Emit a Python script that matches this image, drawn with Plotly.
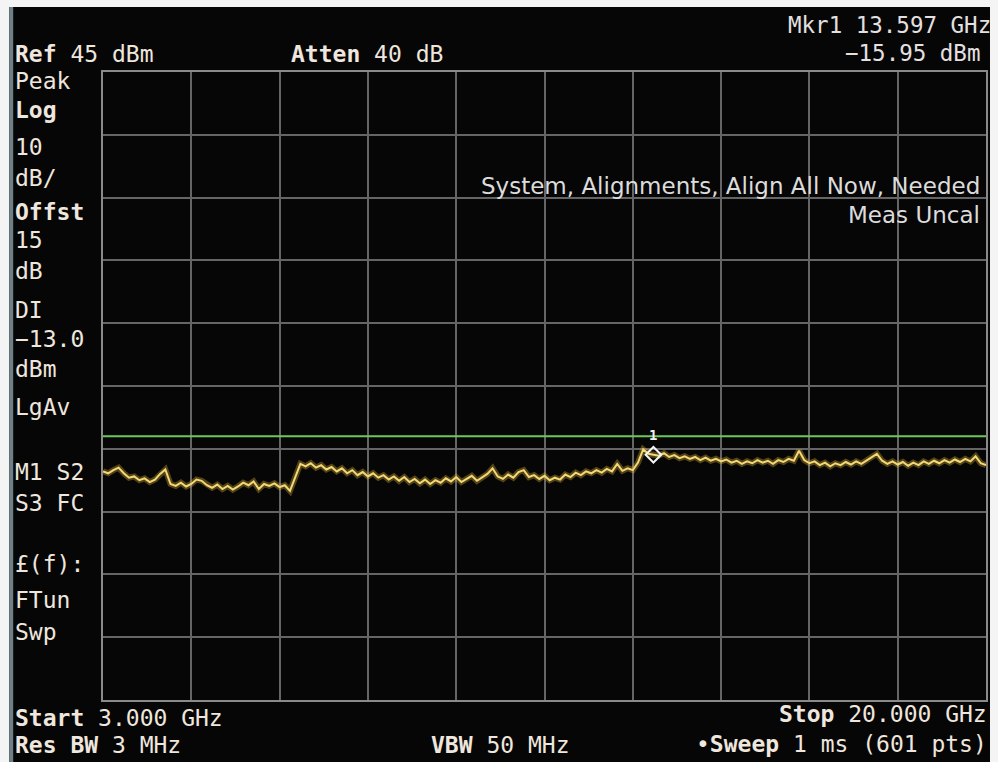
import plotly.graph_objects as go

# Sweep settings shown on the analyzer screen
start_ghz = 3.0
stop_ghz = 20.0
ref_level_dbm = 45
db_per_div = 10
display_line_dbm = -13.0
marker_freq_ghz = 13.597
marker_level_dbm = -15.95

# Trace frequencies (GHz) and measured levels (dBm)
freq_ghz = [round(3.0 + 0.1 * i, 1) for i in range(171)]
level_dbm = [
    -18.6, -18.9, -18.4, -18.0, -18.9, -19.6, -19.4, -20.0, -19.7, -20.3,
    -19.9, -19.0, -18.3, -20.6, -20.9, -20.4, -21.0, -20.6, -19.9, -20.1,
    -20.8, -21.2, -20.7, -21.4, -20.9, -21.5, -21.0, -20.4, -20.8, -20.2,
    -21.4, -20.6, -20.9, -20.5, -21.1, -20.8, -21.7, -19.5, -17.4, -17.8,
    -17.3, -18.0, -17.6, -18.3, -17.9, -18.6, -18.1, -18.9, -18.4, -19.2,
    -18.7, -19.4, -18.9, -19.6, -19.2, -19.9, -19.4, -20.1, -19.5, -20.3,
    -19.8, -20.5, -19.9, -20.6, -20.0, -20.4, -19.7, -20.2, -19.5, -20.3,
    -19.8, -19.3, -20.1, -19.6, -19.0, -18.1, -19.4, -19.8, -19.1, -19.6,
    -18.7, -18.4, -19.5, -19.2, -19.8, -19.3, -20.0, -19.6, -19.9, -19.1,
    -19.5, -18.8, -19.2, -18.6, -18.9, -18.4, -18.8, -18.2, -18.6, -17.4,
    -18.5, -18.1, -18.4, -17.2, -15.1, -15.8, -15.9, -16.1, -15.7, -16.3,
    -16.0, -16.5, -16.2, -16.6, -16.3, -16.8, -16.4, -16.9, -16.6, -17.0,
    -16.7, -17.2, -16.9, -17.4, -17.0, -17.3, -16.8, -17.2, -16.9, -17.4,
    -16.8, -17.1, -16.6, -16.9, -15.3, -16.8, -17.3, -17.0, -17.6, -17.2,
    -17.8, -17.3, -17.6, -17.1, -17.5, -17.0, -17.4, -16.9, -16.3, -15.8,
    -16.9, -17.4, -17.0, -17.5, -17.1, -17.7, -17.2, -17.6, -17.0, -17.4,
    -16.9, -17.3, -16.8, -17.2, -16.7, -17.1, -16.6, -17.0, -16.2, -17.3,
    -17.6,
]

# Screen geometry (pixels)
FIG_W, FIG_H = 998, 762
L, T, W, H = 103, 72, 885, 628


def px(p):
    return (p - L) / W


def py(p):
    return (T + H - p) / H


MONO = "DejaVu Sans Mono"
SANS = "DejaVu Sans"
TXT = "#efe6de"
GRID = "#656565"

fig = go.Figure()

# Sweep trace: soft glow underneath, bright core on top
fig.add_trace(go.Scatter(
    x=freq_ghz, y=level_dbm, mode="lines",
    line=dict(color="rgba(225,180,60,0.35)", width=6),
    hoverinfo="skip", showlegend=False,
))
fig.add_trace(go.Scatter(
    x=freq_ghz, y=level_dbm, mode="lines",
    line=dict(color="#f3d874", width=2),
    showlegend=False,
))

# Display line
fig.add_trace(go.Scatter(
    x=[start_ghz, stop_ghz], y=[display_line_dbm, display_line_dbm], mode="lines",
    line=dict(color="#6cc85a", width=2), showlegend=False,
))

# Marker 1
fig.add_trace(go.Scatter(
    x=[marker_freq_ghz], y=[marker_level_dbm], mode="markers",
    marker=dict(symbol="diamond-open", size=12, color="#f4f4f4",
                line=dict(color="#f4f4f4", width=2)),
    showlegend=False,
))
fig.add_annotation(
    x=marker_freq_ghz, y=marker_level_dbm, xref="x", yref="y",
    text="<b>1</b>", showarrow=False, yshift=20,
    font=dict(family=MONO, size=14, color="#f0f0f0"),
)

# Screen bezel around the display
shapes = [
    dict(type="rect", xref="paper", yref="paper", x0=px(-5), x1=px(9), y0=py(770), y1=py(-5),
         fillcolor="#f4f4f4", line=dict(width=0), layer="below"),
    dict(type="rect", xref="paper", yref="paper", x0=px(-5), x1=px(1005), y0=py(7), y1=py(-5),
         fillcolor="#f4f4f4", line=dict(width=0), layer="below"),
    dict(type="rect", xref="paper", yref="paper", x0=px(992), x1=px(1005), y0=py(770), y1=py(-5),
         fillcolor="#f4f4f4", line=dict(width=0), layer="below"),
    dict(type="rect", xref="paper", yref="paper", x0=px(9), x1=px(13), y0=py(770), y1=py(7),
         fillcolor="#6f7f86", line=dict(width=0), layer="below"),
]

# Left-side status column
left_lines = [
    ("<b>Ref</b> 45 dBm", 54),
    ("Peak", 81),
    ("<b>Log</b>", 110),
    ("10", 147),
    ("dB/", 178),
    ("<b>Offst</b>", 212),
    ("15", 240),
    ("dB", 271),
    ("DI", 310),
    ("\u221213.0", 339),
    ("dBm", 369),
    ("LgAv", 407),
    ("M1 S2", 472),
    ("S3 FC", 503),
    ("\u00a3(f):", 564),
    ("FTun", 600),
    ("Swp", 632),
    ("<b>Start</b> 3.000 GHz", 718),
    ("<b>Res BW</b> 3 MHz", 745),
]
for text, yc in left_lines:
    fig.add_annotation(
        x=px(14), y=py(yc), xref="paper", yref="paper", text=text,
        showarrow=False, xanchor="left", yanchor="middle", borderpad=0,
        font=dict(family=MONO, size=23, color=TXT),
    )

# Other header / footer readouts: (text, x, y, anchor, family, size, colour)
readouts = [
    ("<b>Atten</b> 40 dB", 290, 54, "left", MONO, 23, TXT),
    ("Mkr1 13.597 GHz", 994, 25, "right", MONO, 22.5, "#e4e0e0"),
    ("\u221215.95 dBm", 983, 53, "right", MONO, 22.5, "#e4e0e0"),
    ("System, Alignments, Align All Now, Needed", 983, 186, "right", SANS, 23, "#dcdcdc"),
    ("Meas Uncal", 983, 215, "right", SANS, 23, "#dcdcdc"),
    ("<b>Stop</b> 20.000 GHz", 990, 714, "right", MONO, 23, TXT),
    ("<b>VBW</b> 50 MHz", 431, 745, "left", MONO, 23, TXT),
    ("\u2022<b>Sweep</b> 1 ms (601 pts)", 990, 744, "right", MONO, 23, TXT),
]
for text, xp, yc, anchor, fam, size, col in readouts:
    fig.add_annotation(
        x=px(xp), y=py(yc), xref="paper", yref="paper", text=text,
        showarrow=False, xanchor=anchor, yanchor="middle", borderpad=0,
        font=dict(family=fam, size=size, color=col),
    )

span = stop_ghz - start_ghz
fig.update_layout(
    width=FIG_W, height=FIG_H,
    margin=dict(l=L, r=FIG_W - L - W, t=T, b=FIG_H - T - H),
    paper_bgcolor="#060606", plot_bgcolor="#060606",
    shapes=shapes,
    xaxis=dict(
        range=[start_ghz, stop_ghz], tick0=start_ghz, dtick=span / 10,
        showgrid=True, gridcolor=GRID, gridwidth=1.5, zeroline=False,
        showticklabels=False, ticks="", showline=True, linecolor="#8a8a8a",
        linewidth=2, mirror=True,
    ),
    yaxis=dict(
        range=[ref_level_dbm - 10 * db_per_div, ref_level_dbm], tick0=ref_level_dbm,
        dtick=db_per_div, showgrid=True, gridcolor=GRID, gridwidth=1.5,
        zeroline=False, showticklabels=False, ticks="", showline=True,
        linecolor="#8a8a8a", linewidth=2, mirror=True,
    ),
    showlegend=False,
)

fig.write_html("out.html")
